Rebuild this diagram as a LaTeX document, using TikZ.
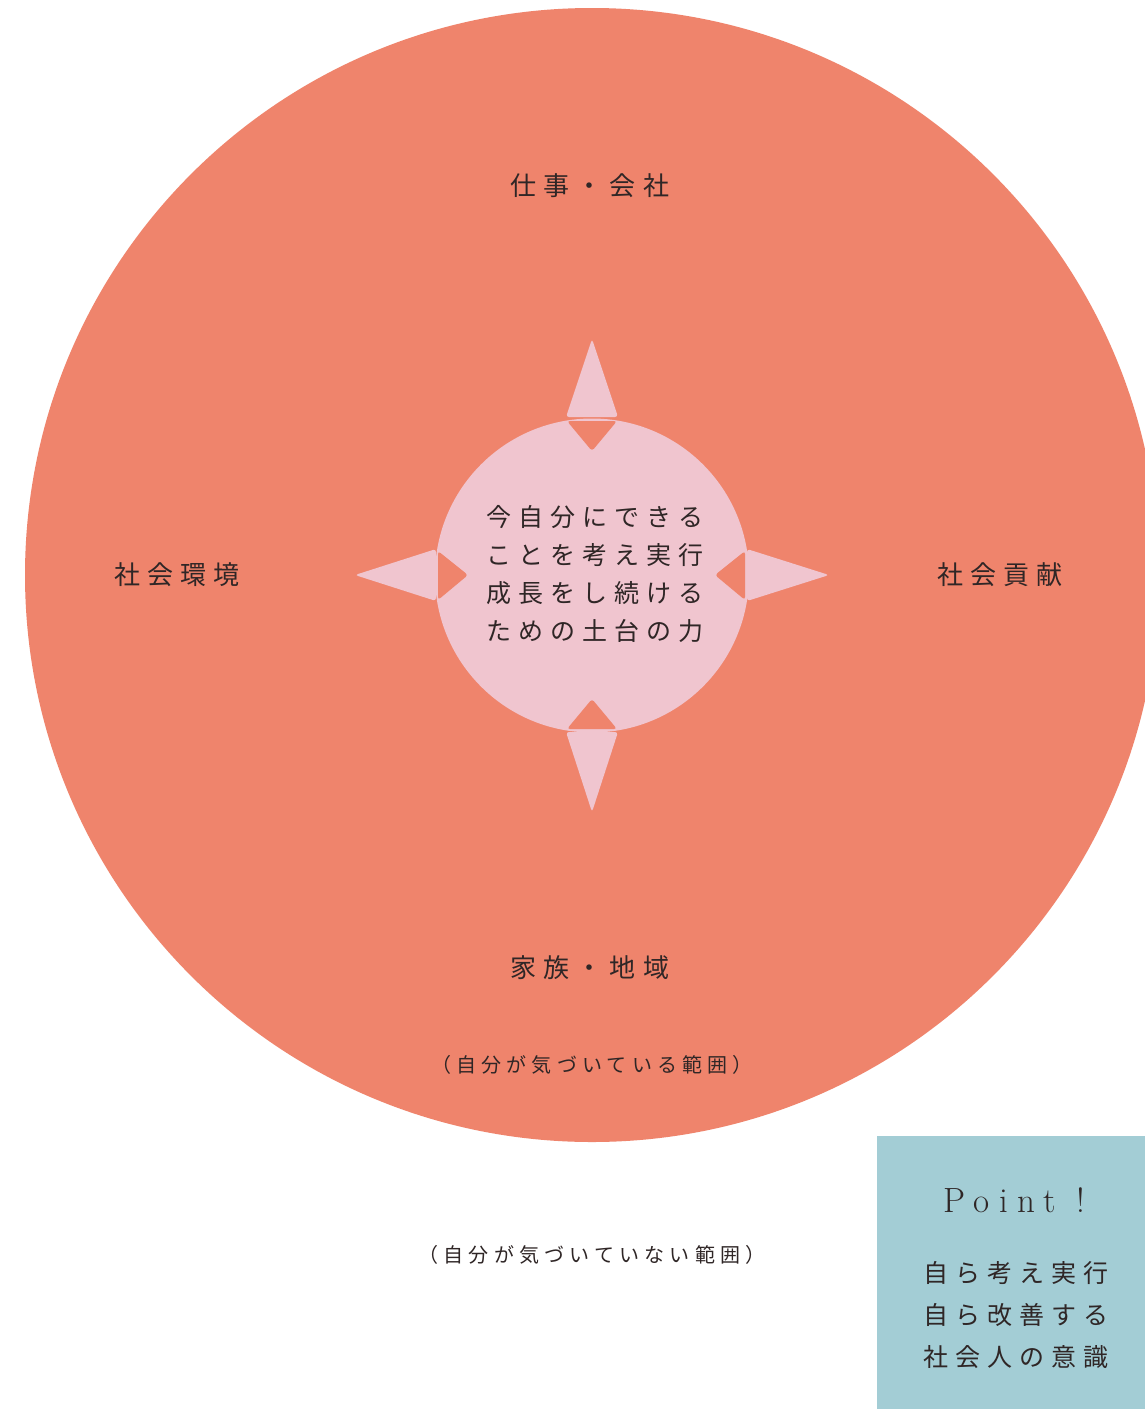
\documentclass[tikz,border=0pt]{standalone}
\usepackage{fontspec}
\newfontfamily\jp[LetterSpace=27]{Noto Sans CJK JP}
\newfontfamily\jpin[LetterSpace=28]{Noto Sans CJK JP}
\newfontfamily\jpsm[LetterSpace=26]{Noto Sans CJK JP}
\newfontfamily\pointfont[LetterSpace=27]{Latin Modern Roman}
\definecolor{bigc}{HTML}{EF846C}
\definecolor{innerc}{HTML}{F0C5CF}
\definecolor{boxc}{HTML}{A3CDD5}
\definecolor{txt}{HTML}{2F2626}
\tikzset{
  lbl/.style={text=txt, inner sep=0pt, font=\jp\fontsize{26}{26}\selectfont},
  small/.style={text=txt, inner sep=0pt, font=\jpsm\fontsize{20}{20}\selectfont},
  kite/.style={fill=innerc, rounded corners=3pt},
  notch/.style={fill=bigc, rounded corners=3pt}
}
\begin{document}
\begin{tikzpicture}[x=1pt,y=-1pt]
\useasboundingbox (0,0) rectangle (1145,1409);
\clip (0,0) rectangle (1145,1409);
\fill[white] (0,0) rectangle (1145,1409);
% big circle
\fill[bigc] (592,575) circle[radius=567pt];
% inner circle
\fill[innerc] (592,575.5) circle[radius=157pt];
% kites
\fill[kite] (592,339) -- (618,417) -- (566,417) -- cycle;
\fill[kite] (592,812) -- (566,732) -- (618,732) -- cycle;
\fill[kite] (355,575) -- (436,549) -- (436,601) -- cycle;
\fill[kite] (829,575) -- (747,549) -- (747,601) -- cycle;
% notches
\fill[notch] (567,421) -- (617,421) -- (592,451) -- cycle;
\fill[notch] (567,729) -- (617,729) -- (592,699) -- cycle;
\fill[notch] (438,551) -- (438,600) -- (468,575) -- cycle;
\fill[notch] (745,551) -- (745,600) -- (715,575) -- cycle;
% labels
\node[lbl] (top) at (590,186) {仕事・会社};
\node[lbl] (left) at (177,575) {社会環境};
\node[lbl] (right) at (1000,575) {社会貢献};
\node[lbl] (bottom) at (590,968) {家族・地域};
\node[lbl, align=center, font=\jpin\fontsize{25}{38}\selectfont] (center) at (595,574)
  {今自分にできる\\ ことを考え実行\\ 成長をし続ける\\ ための土台の力};
\node[small] (inside) at (592,1065) {（自分が気づいている範囲）};
\node[small] (outside) at (592,1255) {（自分が気づいていない範囲）};
% point box
\fill[boxc] (877,1136) rectangle (1145,1409);
\node[text=txt, inner sep=0pt, font=\pointfont\fontsize{35}{35}\selectfont] (point) at (1014,1200) {Point !};
\node[lbl, align=center, font=\jpin\fontsize{25}{42}\selectfont] (pointtext) at (1016,1315)
  {自ら考え実行\\ 自ら改善する\\ 社会人の意識};
\end{tikzpicture}
\end{document}
